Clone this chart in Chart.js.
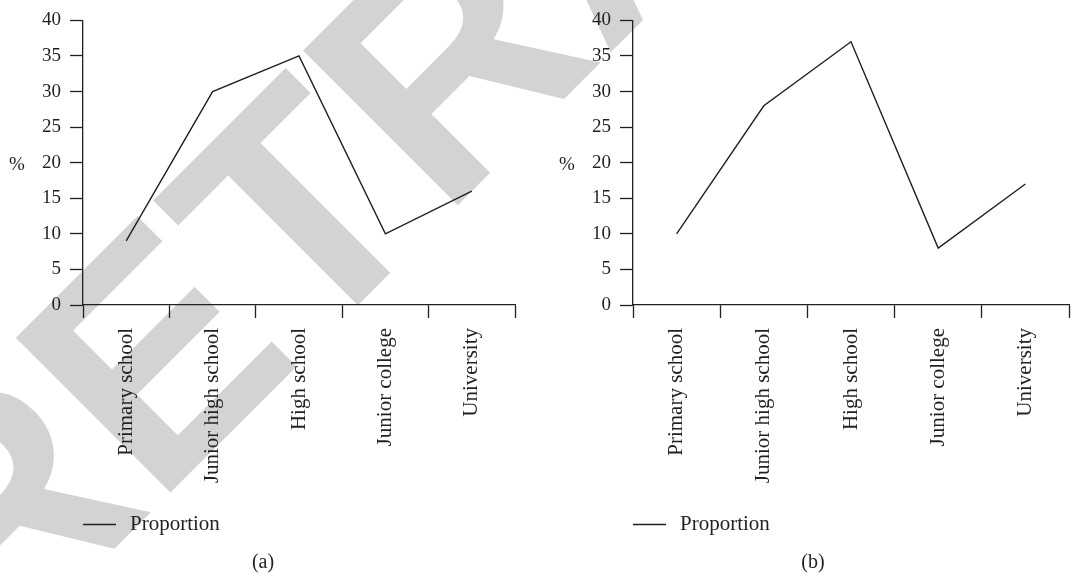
<!DOCTYPE html>
<html>
<head>
<meta charset="utf-8">
<script src="https://cdn.jsdelivr.net/npm/chart.js@4.4.1/dist/chart.umd.min.js"></script>
<style>
    body { margin: 0; background: #fff; }
    #wrap { position: relative; width: 1074px; height: 577px; overflow: hidden; }
    canvas { position: absolute; top: 0; }
</style>
</head>
<body>
<div id="wrap">
    <canvas id="mark" width="1074" height="577" style="left:0"></canvas>
    <canvas id="chartA" width="540" height="577" style="left:0"></canvas>
    <canvas id="chartB" width="534" height="577" style="left:540px"></canvas>
</div>
<script>
const categories = ["Primary school", "Junior high school", "High school", "Junior college", "University"];
const proportionA = [9, 30, 35, 10, 16];
const proportionB = [10, 28, 37, 8, 17];
const yTicks = [0, 5, 10, 15, 20, 25, 30, 35, 40];
const seriesName = "Proportion";

const INK = "#231f20";
const SERIF = "'Liberation Serif', 'Times New Roman', serif";

// retraction watermark, behind both charts
const mctx = document.getElementById("mark").getContext("2d");
mctx.save();
mctx.translate(-7, 670);
mctx.rotate(-Math.PI / 4);
mctx.fillStyle = "#d3d3d3";
mctx.font = "bold 318px 'Liberation Sans', Arial, sans-serif";
mctx.textBaseline = "alphabetic";
mctx.fillText("RETRACTED", 0, 0);
mctx.restore();

// legend line, "%" label and the (a)/(b) caption
const extras = {
    id: "extras",
    afterDraw(chart, args, opts) {
        const ctx = chart.ctx;
        const left = chart.chartArea.left;
        ctx.save();
        ctx.fillStyle = INK;
        ctx.strokeStyle = INK;
        ctx.font = "19px " + SERIF;
        ctx.textAlign = "center";
        ctx.textBaseline = "middle";
        ctx.fillText("%", left - 66, chart.scales.y.getPixelForValue(20) + 2);

        ctx.lineWidth = 1.3;
        ctx.beginPath();
        ctx.moveTo(left, 524.5);
        ctx.lineTo(left + 33, 524.5);
        ctx.stroke();
        ctx.font = "21px " + SERIF;
        ctx.textAlign = "left";
        ctx.fillText(chart.data.datasets[0].label, left + 47, 524);

        ctx.font = "20px " + SERIF;
        ctx.textAlign = "center";
        ctx.fillText(opts.caption, left + 180, 563);
        ctx.restore();
    }
};

function makeChart(id, values, caption, axisWidth, padRight) {
    return new Chart(document.getElementById(id), {
        type: "line",
        data: {
            labels: categories,
            datasets: [{
                label: seriesName,
                data: values,
                borderColor: INK,
                borderWidth: 1.4,
                pointRadius: 0,
                tension: 0,
                fill: false
            }]
        },
        options: {
            responsive: false,
            animation: false,
            layout: { padding: { left: 0, right: padRight, top: 15, bottom: 0 } },
            plugins: {
                legend: { display: false },
                tooltip: { enabled: false },
                extras: { caption: caption }
            },
            scales: {
                x: {
                    offset: true,
                    grid: {
                        offset: true,
                        drawOnChartArea: false,
                        tickLength: 13,
                        tickColor: INK,
                        tickWidth: 1.3
                    },
                    border: { color: INK, width: 1.3 },
                    ticks: {
                        color: INK,
                        font: { family: SERIF, size: 21 },
                        minRotation: 90,
                        maxRotation: 90,
                        padding: 10
                    },
                    afterFit(scale) { scale.height = 272; }
                },
                y: {
                    min: 0,
                    max: 40,
                    afterBuildTicks(scale) { scale.ticks = yTicks.map(v => ({ value: v })); },
                    grid: {
                        drawOnChartArea: false,
                        tickLength: 13,
                        tickColor: INK,
                        tickWidth: 1.3
                    },
                    border: { color: INK, width: 1.3 },
                    ticks: {
                        color: INK,
                        font: { family: SERIF, size: 19 },
                        padding: 9
                    },
                    afterFit(scale) { scale.width = axisWidth; }
                }
            }
        },
        plugins: [extras]
    });
}

makeChart("chartA", proportionA, "(a)", 83, 25);
makeChart("chartB", proportionB, "(b)", 93, 5);
</script>
</body>
</html>
